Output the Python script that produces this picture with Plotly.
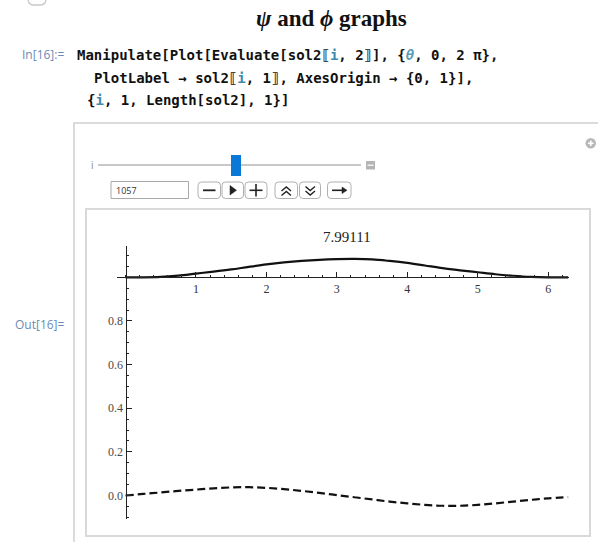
import plotly.graph_objects as go

# ---------------- data ----------------
theta = [0.0, 0.25, 0.5, 0.75, 1.0, 1.25, 1.5, 1.75, 2.0, 2.25, 2.5, 2.75, 3.0, 3.25,
         3.5, 3.75, 4.0, 4.25, 4.5, 4.75, 5.0, 5.25, 5.5, 5.75, 6.0, 6.283]
psi_vals = [1.000, 1.000, 1.002, 1.008, 1.017, 1.026, 1.036, 1.048, 1.059, 1.068, 1.075, 1.080, 1.083, 1.084,
            1.082, 1.075, 1.066, 1.054, 1.042, 1.032, 1.023, 1.014, 1.007, 1.002, 1.000, 1.000]
phi_vals = [0.000, 0.007, 0.014, 0.021, 0.027, 0.033, 0.037, 0.038, 0.035, 0.029, 0.021, 0.012, 0.002, -0.008,
            -0.018, -0.028, -0.036, -0.043, -0.047, -0.047, -0.043, -0.036, -0.028, -0.020, -0.013, -0.007]
x_tick_vals = [1, 2, 3, 4, 5, 6]
x_tick_text = ["1", "2", "3", "4", "5", "6"]
y_tick_vals = [0.0, 0.2, 0.4, 0.6, 0.8]
y_tick_text = ["0.0", "0.2", "0.4", "0.6", "0.8"]
plot_label = "7.99111"
slider_value = "1057"
heading = "<i>ψ</i> and <i>ϕ</i> graphs"

W, H = 598, 542


def px(x):
    return x / W


def py(y):
    return 1 - y / H


def rrect(x0, y0, x1, y1, r):
    a, b, c, d = px(x0), py(y0), px(x1), py(y1)
    rx, ry = r / W, r / H
    return (f"M {a+rx},{b} L {c-rx},{b} Q {c},{b} {c},{b-ry} L {c},{d+ry} "
            f"Q {c},{d} {c-rx},{d} L {a+rx},{d} Q {a},{d} {a},{d+ry} L {a},{b-ry} "
            f"Q {a},{b} {a+rx},{b} Z")


def pline(points):
    return "M " + " L ".join(f"{px(x)},{py(y)}" for x, y in points)


fig = go.Figure()
fig.add_trace(go.Scatter(x=theta, y=psi_vals, mode="lines",
                         line=dict(color="#111111", width=2.2, shape="spline", smoothing=1.0),
                         hoverinfo="skip"))
fig.add_trace(go.Scatter(x=theta, y=phi_vals, mode="lines",
                         line=dict(color="#111111", width=2.2, dash="8px,4px", shape="spline", smoothing=1.0),
                         hoverinfo="skip"))

# plot geometry (pixels)
x_left_px, x_right_px = 116.7, 569.3
x0_px, x_unit = 125.5, 70.45
y_top_px, y_bot_px = 246.0, 519.0
y0_px, y_unit = 495.5, 218.2
axis_y_px = y0_px - 1.0 * y_unit

xr = [(x_left_px - x0_px) / x_unit, (x_right_px - x0_px) / x_unit]
yr = [(y0_px - y_bot_px) / y_unit, (y0_px - y_top_px) / y_unit]

axis_col = "#222222"
fig.update_layout(
    width=W, height=H, autosize=False,
    margin=dict(l=0, r=0, t=0, b=0, pad=0),
    paper_bgcolor="white", plot_bgcolor="rgba(0,0,0,0)",
    showlegend=False,
    xaxis=dict(domain=[px(x_left_px), px(x_right_px)], range=xr, anchor="free",
               position=py(axis_y_px), side="bottom",
               showline=True, linecolor=axis_col, linewidth=1,
               showgrid=False, zeroline=False,
               tickmode="array", tickvals=x_tick_vals, ticktext=x_tick_text,
               ticks="inside", ticklen=5, tickwidth=1, tickcolor=axis_col,
               minor=dict(ticks="inside", ticklen=2.5, tickwidth=1, tickcolor=axis_col,
                          tickmode="linear", tick0=0, dtick=0.2),
               tickfont=dict(family="Liberation Serif", size=12, color="#333333"),
               fixedrange=True),
    yaxis=dict(domain=[py(y_bot_px), py(y_top_px)], range=yr, anchor="free",
               position=px(x0_px), side="left",
               showline=True, linecolor=axis_col, linewidth=1,
               showgrid=False, zeroline=False,
               tickmode="array", tickvals=y_tick_vals, ticktext=y_tick_text,
               ticks="inside", ticklen=5, tickwidth=1, tickcolor=axis_col,
               minor=dict(ticks="inside", ticklen=2.5, tickwidth=1, tickcolor=axis_col,
                          tickmode="linear", tick0=0, dtick=0.05),
               tickfont=dict(family="Liberation Serif", size=12, color="#4a4a4a"),
               fixedrange=True),
)

shapes = []
ann = []

# cell bracket fragment at top-left
shapes.append(dict(type="path", xref="paper", yref="paper",
                   path=f"M {px(28)},{py(0)} Q {px(29)},{py(5)} {px(34)},{py(5)} L {px(40)},{py(5)} Q {px(45)},{py(5)} {px(46)},{py(0)}",
                   line=dict(color="#c8c8c8", width=1.3)))

# outer Manipulate panel border
shapes.append(dict(type="path", xref="paper", yref="paper",
                   path=f"M {px(74)},{py(542)} L {px(74)},{py(123)} L {px(598)},{py(123)}",
                   line=dict(color="#cfcfcf", width=1.5)))
# inner plot frame
shapes.append(dict(type="rect", xref="paper", yref="paper",
                   x0=px(86), y0=py(536), x1=px(590), y1=py(209),
                   line=dict(color="#d9d9d9", width=2), layer="below"))

# slider track
shapes.append(dict(type="line", xref="paper", yref="paper",
                   x0=px(98), y0=py(165), x1=px(361), y1=py(165),
                   line=dict(color="#c8c8c8", width=2)))
# slider thumb
shapes.append(dict(type="rect", xref="paper", yref="paper",
                   x0=px(231), y0=py(176), x1=px(241), y1=py(155),
                   fillcolor="#0a78d7", line=dict(width=0)))
# small grey square after slider
shapes.append(dict(type="rect", xref="paper", yref="paper",
                   x0=px(366), y0=py(169.5), x1=px(375), y1=py(161),
                   fillcolor="#b4b4b4", line=dict(width=0)))
shapes.append(dict(type="line", xref="paper", yref="paper",
                   x0=px(367.5), y0=py(165.2), x1=px(373.5), y1=py(165.2),
                   line=dict(color="white", width=1.2)))

# input field
shapes.append(dict(type="rect", xref="paper", yref="paper",
                   x0=px(111), y0=py(198.5), x1=px(188.5), y1=py(181.5),
                   fillcolor="white", line=dict(color="#a8a8a8", width=1)))

# buttons
btns = [(198, 220.5), (222, 243.5), (245, 267), (275, 297.5), (299.5, 320.5), (327.5, 351)]
for (a, b) in btns:
    shapes.append(dict(type="path", xref="paper", yref="paper",
                       path=rrect(a, 182, b, 198.5, 3.5),
                       fillcolor="white", line=dict(color="#b0b0b0", width=1)))
gcol = "#222222"
# minus
shapes.append(dict(type="line", xref="paper", yref="paper", x0=px(203), y0=py(190.3), x1=px(215.5), y1=py(190.3),
                   line=dict(color=gcol, width=1.8)))
# play triangle
shapes.append(dict(type="path", xref="paper", yref="paper",
                   path=f"M {px(230)},{py(185.5)} L {px(236.5)},{py(190.3)} L {px(230)},{py(195)} Z",
                   fillcolor=gcol, line=dict(color=gcol, width=0.5)))
# plus
shapes.append(dict(type="line", xref="paper", yref="paper", x0=px(249.5), y0=py(190.3), x1=px(262.5), y1=py(190.3),
                   line=dict(color=gcol, width=1.6)))
shapes.append(dict(type="line", xref="paper", yref="paper", x0=px(256), y0=py(184), x1=px(256), y1=py(196.5),
                   line=dict(color=gcol, width=1.6)))
# double chevron up
for yy in (188.0, 192.5):
    shapes.append(dict(type="path", xref="paper", yref="paper",
                       path=pline([(281.5, yy + 3), (286.3, yy - 1), (291, yy + 3)]),
                       line=dict(color=gcol, width=1.4)))
# double chevron down
for yy in (186.5, 191.0):
    shapes.append(dict(type="path", xref="paper", yref="paper",
                       path=pline([(305.5, yy), (310.2, yy + 4), (315, yy)]),
                       line=dict(color=gcol, width=1.4)))
# arrow right
shapes.append(dict(type="line", xref="paper", yref="paper", x0=px(332), y0=py(190.3), x1=px(344), y1=py(190.3),
                   line=dict(color=gcol, width=1.6)))
shapes.append(dict(type="path", xref="paper", yref="paper",
                   path=f"M {px(342)},{py(187)} L {px(347)},{py(190.3)} L {px(342)},{py(193.6)} Z",
                   fillcolor=gcol, line=dict(color=gcol, width=0.5)))

# plus icon in circle (top right)
shapes.append(dict(type="circle", xref="paper", yref="paper",
                   x0=px(585.5), y0=py(148.5), x1=px(596), y1=py(138),
                   fillcolor="#b8b8b8", line=dict(width=0)))
shapes.append(dict(type="line", xref="paper", yref="paper", x0=px(588), y0=py(143.3), x1=px(593.5), y1=py(143.3),
                   line=dict(color="white", width=1.6)))
shapes.append(dict(type="line", xref="paper", yref="paper", x0=px(590.75), y0=py(140.5), x1=px(590.75), y1=py(146),
                   line=dict(color="white", width=1.6)))

fig.update_layout(shapes=shapes)


def add_text(x, y, text, size, color="#000000", family="Open Sans", xanchor="left"):
    ann.append(dict(x=px(x), y=py(y), xref="paper", yref="paper", text=text, showarrow=False,
                    xanchor=xanchor, yanchor="middle",
                    font=dict(size=size, color=color, family=family)))


teal = "#3d8ab0"
add_text(331.5, 19, f"<b>{heading}</b>", 23, "#111111", "Liberation Serif", "center")
add_text(20, 55, "In[16]:=", 12, "#6b8bb6", "Open Sans")
add_text(13, 324, "Out[16]=", 12, "#6b8bb6", "Open Sans")
code_font = "DejaVu Sans Mono"
add_text(75, 55,
         f"<b>Manipulate[Plot[Evaluate[sol2⟦<span style='color:{teal}'>i</span>, 2⟧], "
         f"{{<span style='color:#5b9bb8'><i>θ</i></span>, 0, 2 π}},</b>", 14, "#111111", code_font)
add_text(92, 77.7,
         f"<b>PlotLabel → sol2⟦<span style='color:{teal}'>i</span>, 1⟧, AxesOrigin → {{0, 1}}],</b>",
         14, "#111111", code_font)
add_text(85, 100,
         f"<b>{{<span style='color:{teal}'>i</span>, 1, Length[sol2], 1}}]</b>", 14, "#111111", code_font)

add_text(92, 165, "i", 10, "#8a8a8a", "Open Sans", "center")
add_text(113.5, 190.3, slider_value, 9, "#333333", "Open Sans")
add_text(347, 237, plot_label, 15, "#222222", "Liberation Serif", "center")

fig.update_layout(annotations=ann)

fig.write_html("out.html", config={"displayModeBar": False})
